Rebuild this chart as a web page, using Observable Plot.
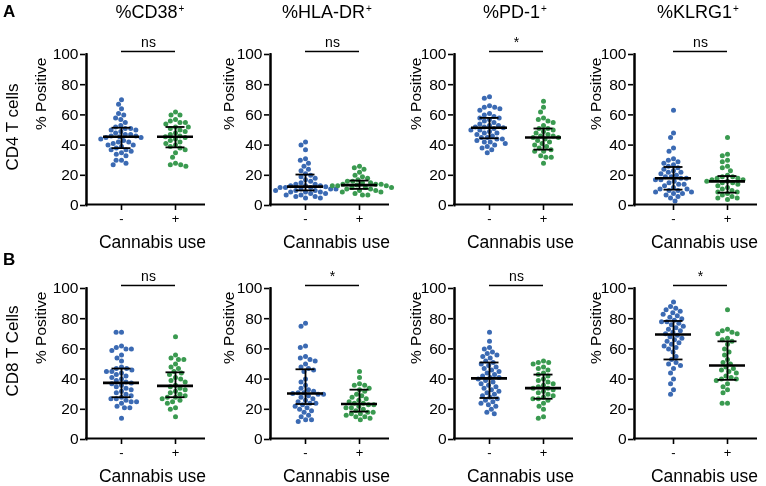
<!DOCTYPE html>
<html><head><meta charset="utf-8">
<script src="https://cdn.jsdelivr.net/npm/d3@7"></script>
<script src="https://cdn.jsdelivr.net/npm/@observablehq/plot@0.6"></script>
<style>
body{margin:0;background:#fff;}
#chart{position:relative;width:766px;height:486px;overflow:hidden;font-family:"Liberation Sans",Arial,Helvetica,sans-serif;color:#000;background:#fff;}
.abs{position:absolute;white-space:nowrap;line-height:1;}
.abs sup{font-size:10px;vertical-align:top;position:relative;top:-3px;margin-left:1px;}
</style></head><body><div id="chart"></div>
<script>
// ---- categories / labels ----
const markers = ["%CD38", "%HLA-DR", "%PD-1", "%KLRG1"];
const cellTypes = ["CD4 T cells", "CD8 T Cells"];
const panelLetters = ["A", "B"];
const groups = ["-", "+"];
const yTicks = [0, 20, 40, 60, 80, 100];
const xTitle = "Cannabis use";
const yTitle = "% Positive";
const cd4Significance = ["ns", "ns", "*", "ns"];
const cd8Significance = ["ns", "*", "ns", "*"];

// ---- CD4 T cells, individual values (% positive) ----
const cd4_CD38_neg = [70,67,64,61,60,58,57,55,53,52,51,51,50,50,49,48,47,47,46,46,45.5,45,45,44,43,42,42,41,40,40,39,38,37,37,36,35,34,33,30,30,28,27];
const cd4_CD38_pos = [62,60,60,57,56,55,55,54,52,52,51,50,49,48,47,46,45.5,45,44,43,42,41,40,39,38,37,35,32,28,27,27,26];
const cd4_HLADR_neg = [42,40,37,31,30,28,26,24,23,21,20,19,18,17,16,15,14,14,13,13,13,12.5,12,12,12,11,11,11,10,10,10,9,9,9,8,8,7,7,6,6,5,5];
const cd4_HLADR_pos = [26,25,24,22,20,19,18,17,16,16,15,15,14,14,14,13.5,13,13,13,12,12,12,11,11,10,10,9,9,8,7,7];
const cd4_PD1_neg = [72,71,66,65,65,64,63,61,60,59,58,58,57,56,55,54,53,53,52,52,51.5,51,50,50,49,48,48,47,46,45,45,44,44,43,42,42,41,40,39,38,37,35];
const cd4_PD1_pos = [69,65,62,58,57,56,55,53,51,51,50,49,48,47,46,46,45,45,44,43,42,41,40,39,38,37,36,36,33,32,32,28];
const cd4_KLRG1_neg = [63,48,45,38,36,31,30,29,28,27,26,25,24,23,22,22,21,20,19,19,18,18,17,17,16,15,14,14,13,12,11,11,10,10,9,9,8,8,7,6,5,3];
const cd4_KLRG1_pos = [45,34,33,30,29,26,25,23,20,19,19,18,18,17,17,16,16,15,15,14,13,12,11,10,9,9,8,7,6,5,5,4];

// ---- CD8 T cells, individual values (% positive) ----
const cd8_CD38_neg = [71,71,62,61,60,60,59,56,54,52,48,47,47,46,45,45,44,43,42,41,40,39,38,37.5,37,36,35,34,33,32,31,30,29,28,27,27,26,25,25,24,22,21,21,14];
const cd8_CD38_pos = [68,56,54,53,53,50,48,47,45,44,43,41,40,39,38,36,35,34,33,32,31,30,29,28,28,27,26,25,24,21,20,15];
const cd8_HLADR_neg = [77,75,62,61,55,54,53,52,50,48,47,46,45,40,38,36,34,33,32,31,31,30.5,30,30,29,28,27,26,25,24,24,23,22,21,20,19,18,16,15,13,13,12];
const cd8_HLADR_pos = [45,41,37,36,36,34,33,32,30,29,28,27,26,25,24,24,23,23,22,21,21,20,19,18,18,17,17,16,15,15,14,13];
const cd8_PD1_neg = [71,65,61,60,58,57,56,55,54,52,51,50,49,48,47,46,45,44,43,42,41,41,40,39,38,37,36,35,34,33,32,31,30,29,28,27,26,25,24,23,22,20,18,17];
const cd8_PD1_pos = [52,51,51,50,48,47,46,44,43,42,40,39,38,37,36,35,34,34,33,32,31,30,29,28,27,27,26,24,22,20,15,14];
const cd8_KLRG1_neg = [91,88,87,86,85,84,83,82,81,80,79,78,78,77,76,75,74,73,72,71,70,69,68,67,66,65,64,63,62,61,60,58,55,53,51,50,49,47,44,40,37,33,30];
const cd8_KLRG1_pos = [86,73,72,71,70,70,67,66,65,63,60,58,56,53,51,50,48,47,46,45,44,42,41,40,40,39,37,35,33,31,24,24];

// ---- median and interquartile range per marker (order: CD38, HLA-DR, PD-1, KLRG1) ----
const cd4MedNeg = [45.5, 12.5, 51.5, 18];
const cd4MedPos = [45.5, 13.5, 45, 16];
const cd4Q1Neg  = [38, 10, 44.5, 10.5];
const cd4Q1Pos  = [38.5, 11, 37, 8.5];
const cd4Q3Neg  = [51.5, 20.5, 58, 25.5];
const cd4Q3Pos  = [52, 16.5, 51, 19.5];
const cd8MedNeg = [37.5, 30.5, 40.5, 69.5];
const cd8MedPos = [35.5, 23.5, 34, 49];
const cd8Q1Neg  = [28, 23.5, 27.5, 53];
const cd8Q1Pos  = [28, 18.5, 27, 39.5];
const cd8Q3Neg  = [47, 46.5, 51, 78.5];
const cd8Q3Pos  = [44.5, 33, 43, 65];

// ---- assemble ----
const rows = [
  {values: [[cd4_CD38_neg, cd4_CD38_pos], [cd4_HLADR_neg, cd4_HLADR_pos], [cd4_PD1_neg, cd4_PD1_pos], [cd4_KLRG1_neg, cd4_KLRG1_pos]],
   med: [cd4MedNeg, cd4MedPos], q1: [cd4Q1Neg, cd4Q1Pos], q3: [cd4Q3Neg, cd4Q3Pos], sig: cd4Significance},
  {values: [[cd8_CD38_neg, cd8_CD38_pos], [cd8_HLADR_neg, cd8_HLADR_pos], [cd8_PD1_neg, cd8_PD1_pos], [cd8_KLRG1_neg, cd8_KLRG1_pos]],
   med: [cd8MedNeg, cd8MedPos], q1: [cd8Q1Neg, cd8Q1Pos], q3: [cd8Q3Neg, cd8Q3Pos], sig: cd8Significance}
];

// ---- layout / style ----
const FONT = '"Liberation Sans", Arial, Helvetica, sans-serif';
const colors = ["#3b6ab3", "#3a9a50"];
const axisX = [85, 269, 453, 633];
const bandStart = [9, 9, 9, 13];
const frameW = [120, 120, 120, 124];
const yLabOff = [44, 40, 37, 37];
const rowTop = [0, 234];
const titleX = [150, 327, 515, 698];
const ML = 56, MR = 6, MT = 54, MB = 45, H = 250, BAND = 54;
const ySig = 102;
const AXW = 2;
const yMin = yTicks[0], yMax = yTicks[yTicks.length - 1];

const chart = document.getElementById("chart");

function addDiv(html, style) {
  const d = document.createElement("div");
  d.className = "abs";
  d.innerHTML = html;
  Object.assign(d.style, style);
  chart.appendChild(d);
  return d;
}
function place(svg, left, top, blend) {
  svg.style.position = "absolute";
  svg.style.left = left + "px";
  svg.style.top = top + "px";
  if (blend) svg.style.mixBlendMode = blend;
  chart.appendChild(svg);
}

rows.forEach((row, r) => {
  row.values.forEach(([neg, pos], c) => {
    const pts = [...neg.map(v => ({g: groups[0], v})), ...pos.map(v => ({g: groups[1], v}))];
    const stats = groups.map((g, k) => ({g, med: row.med[k][c], q1: row.q1[k][c], q3: row.q3[k][c]}));
    const b0 = bandStart[c], fw = frameW[c];
    const W = ML + fw + MR;
    const common = {
      width: W, height: H,
      marginLeft: ML, marginRight: MR, marginTop: MT, marginBottom: MB,
      style: {fontFamily: FONT, fontSize: "15px", color: "#000", background: "transparent", overflow: "visible"}
    };

    // layer 1: axes and axis titles
    const axes = Plot.plot({
      ...common,
      x: {type: "point", domain: groups, range: [ML + b0 + BAND / 2, ML + b0 + 3 * BAND / 2], padding: 0},
      y: {domain: [yMin, yMax]},
      marks: [
        Plot.ruleX([groups[0]], {dx: -(b0 + BAND / 2) + AXW / 2, insetTop: -AXW / 2, strokeWidth: AXW}),
        Plot.frame({anchor: "left", clip: false, insetLeft: AXW / 2, strokeWidth: AXW}),
        Plot.ruleY([yMin], {dy: -AXW / 2, strokeWidth: AXW}),
        Plot.axisY({ticks: yTicks, tickSize: 5, tickPadding: 2, fontSize: 15.5, label: null, strokeWidth: 1.6}),
        Plot.axisX({tickSize: 5, tickPadding: 3, fontSize: 13, label: null, strokeWidth: 1.6}),
        Plot.text([yTitle], {text: d => d, frameAnchor: "left", rotate: -90, dx: -yLabOff[c], fontSize: 15.5}),
        Plot.text([xTitle], {text: d => d, frameAnchor: "bottom", textAnchor: "middle", dx: b0 + BAND - fw / 2 + 4, dy: 42, fontSize: 17.5})
      ]
    });
    place(axes, axisX[c] - ML, rowTop[r]);

    // layer 2: dots, median/IQR, significance bracket
    const dots = Plot.plot({
      ...common,
      fx: {domain: groups, range: [ML + b0, ML + b0 + 2 * BAND], padding: 0, axis: null, label: null},
      y: {domain: [yMin, yMax], axis: null},
      color: {domain: groups, range: colors},
      marks: [
        Plot.dot(pts, Plot.dodgeX({anchor: "middle", padding: 0.4, y: "v", fx: "g", fill: "g", r: 2.5})),
        Plot.ruleX(stats, {x: null, fx: "g", y1: "q1", y2: "q3", strokeWidth: 1.8}),
        Plot.tickY(stats, {fx: "g", y: "q1", inset: 17.5, strokeWidth: 1.8}),
        Plot.tickY(stats, {fx: "g", y: "q3", inset: 17.5, strokeWidth: 1.8}),
        Plot.tickY(stats, {fx: "g", y: "med", inset: 9, strokeWidth: 2.6}),
        Plot.ruleY([ySig], {facetAnchor: "left", insetLeft: BAND / 2, strokeWidth: 1.5}),
        Plot.ruleY([ySig], {facetAnchor: "right", insetRight: BAND / 2, strokeWidth: 1.5}),
        Plot.text([row.sig[c]], {text: d => d, facetAnchor: "left", frameAnchor: "top-right", textAnchor: "middle", dy: -17, fontSize: 14})
      ]
    });
    place(dots, axisX[c] - ML, rowTop[r], "multiply");
  });
  // panel letter and row label
  addDiv(panelLetters[r], {left: "3px", top: (rowTop[r] + (r ? 17 : 3)) + "px", fontSize: "17px", fontWeight: "bold", lineHeight: "17px"});
  addDiv(cellTypes[r], {left: "12px", top: (r ? 351 : 127) + "px", fontSize: "17px", transform: "translate(-50%,-50%) rotate(-90deg)"});
});

// column titles (top row only)
markers.forEach((m, c) => {
  addDiv(m + "<sup>+</sup>", {left: titleX[c] + "px", top: "3px", fontSize: "18px", lineHeight: "18px", transform: "translateX(-50%)"});
});
</script>
</body></html>
